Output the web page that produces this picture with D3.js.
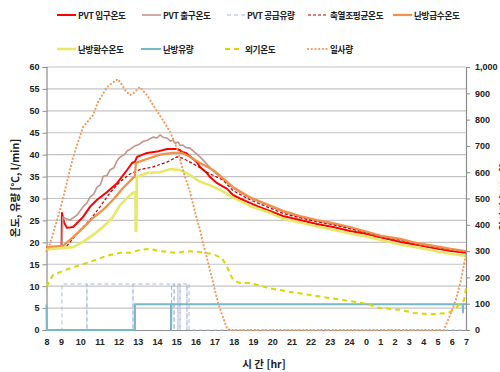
<!DOCTYPE html>
<html><head><meta charset="utf-8">
<script src="https://cdn.jsdelivr.net/npm/d3@7"></script>
<style>
html,body{margin:0;padding:0;background:#fff;}
svg{display:block;font-family:'Noto Sans CJK KR','Liberation Sans',sans-serif;}
</style></head>
<body><svg id="c" width="500" height="372"></svg>
<script>
// ---- data (x = category index: 0 -> "8" ... 24 -> "7") ----
const xLabels = ["8","9","10","11","12","13","14","15","16","17","18","19","20","21","22","23","24","0","1","2","3","4","5","6","7"];
const yLeftTicks = [0,5,10,15,20,25,30,35,40,45,50,55,60];
const yRightTicks = [0,100,200,300,400,500,600,700,800,900,1000];

const pvtIn = [[0,18.9],[1.03,18.9],[1.05,26.7],[1.16,24.5],[1.31,23.3],[1.63,23.5],[2.15,25.8],[2.51,28.1],[2.88,29.7],[3.40,31.5],[3.92,33.5],[4.44,36.5],[4.70,38.1],[4.85,38.4],[4.96,39.5],[5.48,40.4],[6.00,40.7],[6.52,41.3],[7.04,41.3],[7.20,41.0],[7.30,40.6],[7.51,40.4],[8.08,38.3],[8.24,37.2],[8.60,35.8],[8.76,34.9],[9.13,33.5],[9.65,32.2],[9.96,30.8],[10.32,30.0],[10.84,29.0],[11.26,28.2],[12.56,26.0],[13.45,25.1],[14.33,24.2],[15.17,23.5],[16.06,22.6],[17.07,21.9],[18.20,21.0],[19.40,20.1],[20.61,19.4],[21.74,18.7],[22.94,18.0],[24,17.6]];
const pvtOut = [[0,18.8],[1.05,18.8],[1.10,25.8],[1.21,25.5],[1.47,25.1],[1.83,26.2],[2.15,28.1],[2.35,29.0],[2.51,30.3],[2.70,31.0],[2.88,32.6],[3.05,33.1],[3.19,35.0],[3.40,35.3],[3.55,36.5],[3.75,37.0],[3.92,38.6],[4.07,39.4],[4.30,40.0],[4.45,40.9],[4.59,41.2],[4.85,42.0],[5.05,42.3],[5.27,43.0],[5.50,43.3],[5.79,44.0],[6.00,43.8],[6.16,44.5],[6.35,43.9],[6.52,43.8],[6.70,43.1],[6.83,43.3],[6.95,42.6],[7.09,42.9],[7.20,42.1],[7.35,42.2],[7.50,41.6],[7.72,41.5],[8.24,39.5],[8.92,36.3],[9.96,32.4],[10.84,30.1],[11.73,28.5],[12.56,27.0],[13.45,25.8],[14.33,24.9],[15.17,24.2],[16.06,23.3],[17.07,22.2],[18.20,21.2],[19.40,20.6],[20.61,19.6],[21.74,19.0],[22.94,18.3],[24,17.9]];
const pvtFlow = [[0,0],[1.05,0],[1.05,10.5],[2.35,10.5],[2.35,0],[2.35,10.5],[4.75,10.5],[4.75,0],[4.75,10.5],[6.76,10.5],[6.76,0],[6.76,10.5],[6.89,10.5],[6.89,0],[6.89,10.5],[7.09,10.5],[7.09,0],[7.09,10.5],[7.20,10.5],[7.20,0],[7.20,10.5],[7.56,10.5],[7.56,0],[7.56,10.5],[7.67,10.5],[7.67,0],[24,0]];
const tankAvg = [[0,18.9],[1.31,19.2],[1.99,22.8],[2.51,25.1],[3.03,28.1],[3.55,31.3],[4.07,33.8],[4.59,35.6],[5.11,36.6],[5.79,37.2],[6.52,38.3],[7.04,39.5],[7.35,39.2],[7.72,38.3],[8.24,37.0],[8.60,36.0],[9.44,34.2],[9.96,31.8],[10.84,29.7],[11.73,28.1],[12.56,26.6],[13.45,25.6],[14.33,24.7],[15.17,24.0],[16.06,23.1],[17.07,22.2],[18.20,21.2],[19.40,20.5],[20.61,19.6],[21.74,19.0],[22.94,18.3],[24,17.8]];
const heatSupply = [[0,18.9],[1.10,19.2],[1.63,21.2],[2.15,23.3],[2.67,25.6],[3.19,27.4],[3.71,29.7],[4.23,32.4],[4.75,34.7],[4.85,35.0],[4.90,38.1],[5.01,38.3],[5.48,39.0],[6.16,40.0],[6.83,40.4],[7.30,40.4],[7.72,39.5],[8.24,38.1],[8.92,36.5],[9.13,35.8],[9.96,32.6],[10.84,30.3],[11.73,28.7],[12.56,27.2],[13.45,26.0],[14.33,25.1],[15.17,24.4],[16.06,23.5],[17.07,22.4],[18.20,21.4],[19.40,20.8],[20.61,19.8],[21.74,19.2],[22.94,18.5],[24,18.0]];
const heatReturn = [[0,18.4],[1.63,18.9],[2.15,20.1],[2.67,21.7],[3.19,23.5],[3.71,25.8],[4.07,28.5],[4.44,30.1],[4.75,31.3],[4.88,31.5],[4.89,22.6],[4.92,22.6],[4.95,34.9],[5.48,35.8],[6.16,36.0],[6.68,36.7],[7.20,36.5],[7.72,35.4],[8.24,33.8],[8.76,33.0],[9.28,32.0],[9.96,30.2],[10.84,28.3],[11.73,27.0],[12.56,25.4],[13.45,24.5],[14.33,23.6],[15.17,22.9],[16.06,22.0],[17.07,21.3],[18.20,20.4],[19.40,19.5],[20.61,18.8],[21.74,18.1],[22.94,17.4],[24,16.9]];
const heatFlow = [[0,5.8],[0.02,0],[4.85,0],[4.85,5.9],[6.73,5.9],[6.73,0],[6.75,5.9],[23.79,5.9],[23.79,4.0],[23.80,5.9],[24,5.9]];
const outdoor = [[0,9.9],[0.43,12.5],[0.93,13.2],[1.47,14.1],[1.99,14.8],[2.51,15.5],[3.03,16.4],[3.55,17.1],[4.07,17.6],[4.59,17.6],[5.11,18.3],[5.64,18.5],[6.16,18.0],[7.04,17.6],[7.56,18.0],[8.24,17.8],[8.92,17.3],[9.39,16.4],[9.65,14.4],[9.96,11.4],[10.32,10.7],[10.84,10.7],[11.89,9.5],[12.93,8.7],[13.97,8.0],[15.01,7.3],[16.06,6.6],[17.0,6.0],[17.99,5.0],[19.40,4.6],[20.32,3.9],[21.53,3.6],[22.73,3.9],[23.15,4.6],[23.5,5.7],[23.86,6.8],[24,9.5]];
const solar = [[0,300],[0.21,323],[0.93,456],[1.21,532],[1.63,658],[2.15,772],[2.67,817],[2.93,867],[3.40,924],[3.66,939],[3.97,954],[4.18,932],[4.33,913],[4.59,893],[4.85,905],[5.11,924],[5.48,893],[5.90,844],[6.31,798],[6.68,753],[7.04,692],[7.35,608],[7.72,525],[8.08,420],[8.24,380],[8.40,330],[8.76,228],[9.18,103],[9.65,5],[9.8,0],[22.45,0],[22.80,45],[23.29,114],[23.65,190],[24,290]];

const seriesNames = ["PVT 입구온도","PVT 출구온도","PVT 공급유량","축열조평균온도","난방급수온도","난방환수온도","난방유량","외기온도","일사량"];
const seriesData = [pvtIn,pvtOut,pvtFlow,tankAvg,heatSupply,heatReturn,heatFlow,outdoor,solar];

// ---- styles ----
const styles = [
  {color:"#ff0000", w:2, dash:null},
  {color:"#c3948e", w:1.6, dash:null},
  {color:"#aab8d8", w:1, dash:"4,3"},
  {color:"#c00000", w:1.2, dash:"3,2"},
  {color:"#f39048", w:2.2, dash:null},
  {color:"#e8e868", w:2.6, dash:null},
  {color:"#74b8ca", w:2, dash:null},
  {color:"#d8d800", w:2, dash:"5,4"},
  {color:"#f59a5a", w:2.2, dash:"0.1,3.6", cap:"round"}
];
const legendPos = [[57,76,78,15],[142,161,163,15],[227,245,247,15],[308,328,330,15],[393,412,414,15],
                   [57,76,78,49],[141,161,163,49],[225,240,245,49],[308,328,330,49]];

const svg = d3.select("#c");
const x = d3.scaleLinear().domain([0,1,16,17,24]).range([46.5,61,349,366,466]);
const yL = d3.scaleLinear().domain([0,60]).range([330,67]);
const yR = d3.scaleLinear().domain([0,1000]).range([330,67]);

// gridlines
svg.append("g").selectAll("line").data(yLeftTicks.filter(v=>v>0)).join("line")
  .attr("x1",x(0)).attr("x2",x(24)).attr("y1",d=>yL(d)).attr("y2",d=>yL(d))
  .attr("stroke","#c4c4c4").attr("stroke-width",1.2);

// axes
const axL = svg.append("g").attr("transform",`translate(${x(0)},0)`)
  .call(d3.axisLeft(yL).tickValues(yLeftTicks).tickSize(4).tickPadding(3));
const axR = svg.append("g").attr("transform",`translate(${x(24)},0)`)
  .call(d3.axisRight(yR).tickValues(yRightTicks).tickSize(4).tickPadding(5).tickFormat(d3.format(",")));
const axB = svg.append("g").attr("transform",`translate(0,${yL(0)})`)
  .call(d3.axisBottom(x).tickValues(d3.range(xLabels.length)).tickSize(0).tickPadding(9).tickFormat(i=>xLabels[i]));
[axL,axR,axB].forEach(a=>{
  a.selectAll("path.domain").attr("stroke","#8c8c8c").attr("stroke-width",1.2);
  a.selectAll(".tick line").attr("stroke","#8c8c8c");
  a.selectAll("text").attr("font-size",9).attr("font-weight","bold").attr("fill","#222")
    .attr("font-family","'Liberation Sans',Arial,sans-serif");
});

// lines
seriesData.forEach((data,i)=>{
  const yS = i===8 ? yR : yL;
  const st = styles[i];
  const line = d3.line().x(d=>x(d[0])).y(d=>yS(d[1]));
  svg.append("path").datum(data).attr("d",line).attr("fill","none")
    .attr("stroke",st.color).attr("stroke-width",st.w)
    .attr("stroke-dasharray",st.dash).attr("stroke-linecap",st.cap||"butt")
    .attr("stroke-linejoin","round");
});

// legend
const lg = svg.append("g");
seriesNames.forEach((n,i)=>{
  const [a,b,t,yy] = legendPos[i]; const st = styles[i];
  lg.append("line").attr("x1",a).attr("x2",b).attr("y1",yy).attr("y2",yy)
    .attr("stroke",st.color).attr("stroke-width",st.w)
    .attr("stroke-dasharray",st.dash).attr("stroke-linecap",st.cap||"butt");
  lg.append("text").attr("x",t).attr("y",yy+3.5).text(n)
    .attr("font-size",8.6).attr("font-weight","bold").attr("letter-spacing",-0.3).attr("fill","#222");
});

// axis titles
svg.append("text").attr("transform","translate(19,188) rotate(-90)").attr("text-anchor","middle")
  .attr("font-size",10.5).attr("font-weight","bold").attr("fill","#222").text("온도, 유량 [℃, l/min]");
svg.append("text").attr("x",264).attr("y",368).attr("text-anchor","middle")
  .attr("font-size",10.5).attr("font-weight","bold").attr("fill","#222").text("시 간 [hr]");
svg.append("text").attr("transform","translate(508,197) rotate(-90)").attr("text-anchor","middle")
  .attr("font-size",10.5).attr("font-weight","bold").attr("fill","#222").text("일사량 [W/m²]");
</script></body></html>
